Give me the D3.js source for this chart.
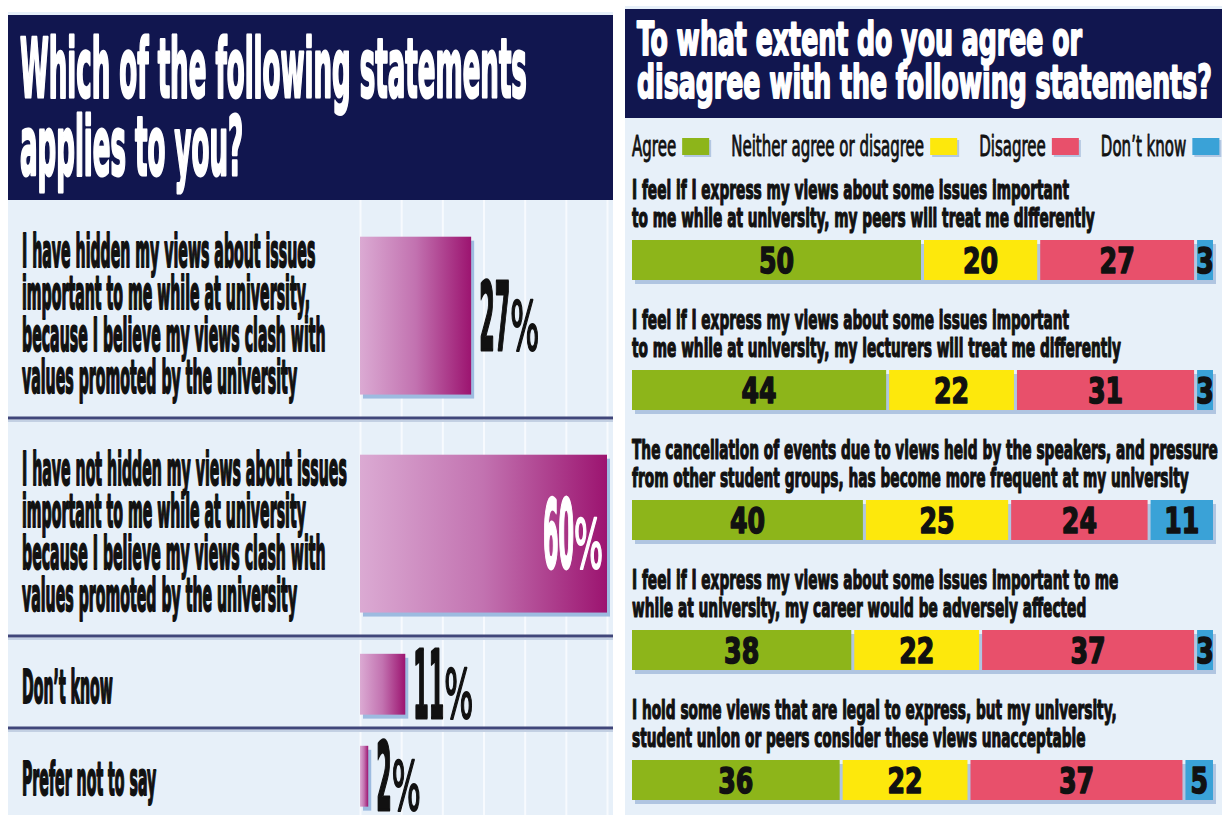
<!DOCTYPE html>
<html><head><meta charset="utf-8">
<script src="https://cdn.jsdelivr.net/npm/d3@7"></script>
<style>html,body{margin:0;padding:0;background:#fff;} svg{display:block}</style>
</head><body>
<svg id="chart" width="1227" height="815"></svg>
<script>
// ---------------- DATA ----------------
const leftTitle = ["Which of the following statements", "applies to you?"];
const leftCategories = [
  ["I have hidden my views about issues", "important to me while at university,", "because I believe my views clash with", "values promoted by the university"],
  ["I have not hidden my views about issues", "important to me while at university", "because I believe my views clash with", "values promoted by the university"],
  ["Don\u2019t know"],
  ["Prefer not to say"]
];
const leftValues = [27, 60, 11, 2];
const leftTicks = [0, 10, 20, 30, 40, 50, 60];

const rightTitle = ["To what extent do you agree or", "disagree with the following statements?"];
const seriesNames = ["Agree", "Neither agree or disagree", "Disagree", "Don\u2019t know"];
const rightStatements = [
  ["I feel if I express my views about some issues important", "to me while at university, my peers will treat me differently"],
  ["I feel if I express my views about some issues important", "to me while at university, my lecturers will treat me differently"],
  ["The cancellation of events due to views held by the speakers, and pressure", "from other student groups, has become more frequent at my university"],
  ["I feel if I express my views about some issues important to me", "while at university, my career would be adversely affected"],
  ["I hold some views that are legal to express, but my university,", "student union or peers consider these views unacceptable"]
];
const agreeValues    = [50, 44, 40, 38, 36];
const neitherValues  = [20, 22, 25, 22, 22];
const disagreeValues = [27, 31, 24, 37, 37];
const dontKnowValues = [3, 3, 11, 3, 5];

// ---------------- STYLE ----------------
const NAVY = "#11164f";
const PANEL = "#e7f0f9";
const seriesColors = ["#8db51a", "#fde80c", "#e8506b", "#3aa2d7"];
const FONT = "'Liberation Sans Narrow','Arial Narrow','DejaVu Sans Condensed','Liberation Sans',sans-serif";

const svg = d3.select("#chart");

function measure(text, size, weight) {
  const t = svg.append("text").attr("font-family", FONT).attr("font-size", size)
    .attr("font-weight", weight).text(text);
  const w = t.node().getComputedTextLength();
  t.remove();
  return w;
}
function fit(text, size, weight, target) { return target / measure(text, size, weight); }
function squeezed(parent, text, x, y, o) {
  const g = parent.append("g").attr("transform", `translate(${x},${y}) scale(${o.sx},1)`);
  const t = g.append("text").attr("x", 0).attr("y", 0).text(text)
    .attr("font-family", FONT).attr("font-size", o.size)
    .attr("font-weight", o.weight || "bold").attr("fill", o.fill || "#111")
    .attr("text-anchor", o.anchor || "start");
  if (o.stroke) t.attr("stroke", o.fill || "#111").attr("stroke-width", o.stroke).attr("stroke-linejoin", "round");
  return g;
}

// defs
const defs = svg.append("defs");
const grad = defs.append("linearGradient").attr("id", "barGrad").attr("x1", "0").attr("x2", "1").attr("y1", "0").attr("y2", "0");
grad.append("stop").attr("offset", "0").attr("stop-color", "#dbaad3");
grad.append("stop").attr("offset", "0.5").attr("stop-color", "#c272b0");
grad.append("stop").attr("offset", "1").attr("stop-color", "#9c1470");

// ---------------- PANELS ----------------
svg.append("rect").attr("x", 8).attr("y", 12).attr("width", 605).attr("height", 803).attr("fill", PANEL);
svg.append("rect").attr("x", 625).attr("y", 6).attr("width", 597).attr("height", 809).attr("fill", PANEL);

// ---------------- LEFT CHART ----------------
const left = svg.append("g");
const xL = d3.scaleLinear().domain([0, 60]).range([360, 607]);
const LEFT_TOP = 200, LINE_H = 42, ROW_PAD = 50;

// grid (axis ticks)
const grid = left.append("g").attr("transform", `translate(0,${LEFT_TOP})`)
  .call(d3.axisBottom(xL).tickValues(leftTicks).tickSize(620).tickFormat(""));
grid.select(".domain").remove();
grid.selectAll(".tick line").attr("stroke", "#f7fafe").attr("stroke-width", 2);

// header
left.append("rect").attr("x", 8).attr("y", 15).attr("width", 605).attr("height", 185).attr("fill", NAVY);
const tSx = fit(leftTitle[0], 82, "bold", 507);
leftTitle.forEach((l, i) => squeezed(left, l, 20, 97 + i * 78, { size: 82, sx: tSx, fill: "#fff", stroke: 3 }));

// rows
let acc = LEFT_TOP;
const leftRows = leftCategories.map((lines, i) => {
  const h = lines.length * LINE_H + ROW_PAD;
  const r = { top: acc, h, lines, value: leftValues[i] };
  acc += h;
  return r;
});
const LAB_SIZE = 46;
const labSx = fit(leftCategories[1][0], LAB_SIZE, "bold", 325);
const numSx = fit("27", 94, "bold", 31);
const pctSx = fit("%", 68, "normal", 29);

leftRows.forEach((r, i) => {
  // separator
  if (i < leftRows.length - 1) {
    const yy = r.top + r.h;
    left.append("line").attr("x1", 8).attr("x2", 613).attr("y1", yy + 3).attr("y2", yy + 3)
      .attr("stroke", "#c3d0e3").attr("stroke-width", 2);
    left.append("line").attr("x1", 8).attr("x2", 613).attr("y1", yy).attr("y2", yy)
      .attr("stroke", "#40467a").attr("stroke-width", 3);
  }
  // label
  const center = r.top + r.h / 2 + 4;
  const first = center - (r.lines.length - 1) * LINE_H / 2 + 17;
  r.lines.forEach((l, j) => squeezed(left, l, 22, first + j * LINE_H, { size: LAB_SIZE, sx: labSx, stroke: 2 }));
  // bar
  const y0 = r.top + 0.15 * r.h + 4;
  const y1 = r.top + r.h - 0.08 * r.h - 6;
  const bw = xL(r.value) - xL(0);
  left.append("rect").attr("x", xL(0) + 3).attr("y", y0 + 4).attr("width", bw).attr("height", y1 - y0)
    .attr("fill", "#9dbbe0");
  left.append("rect").attr("x", xL(0)).attr("y", y0).attr("width", bw).attr("height", y1 - y0)
    .attr("fill", "url(#barGrad)");
  // value label
  const bc = (y0 + y1) / 2;
  const base = Math.min(bc + 34, 811);
  const nW = measure(String(r.value), 94, "bold") * numSx;
  const pW = measure("%", 68, "normal") * pctSx;
  let startX = xL(r.value) + 8, col = "#111";
  if (startX + nW + pW > 613) { startX = xL(r.value) - 4 - nW - pW; col = "#fff"; }
  squeezed(left, String(r.value), startX, base, { size: 94, sx: numSx, fill: col, stroke: 3 });
  squeezed(left, "%", startX + nW, base, { size: 68, sx: pctSx, weight: "normal", fill: col, stroke: 2 });
});

// ---------------- RIGHT CHART ----------------
const right = svg.append("g");
right.append("rect").attr("x", 625).attr("y", 9).attr("width", 597).attr("height", 109).attr("fill", NAVY);
const rtSx = fit(rightTitle[1], 47, "bold", 575);
rightTitle.forEach((l, i) => squeezed(right, l, 637, 55 + i * 43, { size: 47, sx: rtSx, fill: "#fff", stroke: 2 }));

// legend
const legSx = fit(seriesNames[1], 28, "normal", 193);
let lx = 632;
seriesNames.forEach((n, i) => {
  squeezed(right, n, lx, 156, { size: 28, sx: legSx, weight: "normal", stroke: 0.9 });
  const w = measure(n, 28, "normal") * legSx;
  const sx = lx + w + 6;
  right.append("rect").attr("x", sx + 2).attr("y", 140).attr("width", 27).attr("height", 17).attr("fill", "#b3c7e2");
  right.append("rect").attr("x", sx).attr("y", 138).attr("width", 27).attr("height", 17).attr("fill", seriesColors[i]);
  lx = sx + 27 + 22;
});

const xR = d3.scaleLinear().domain([0, 100]).range([632, 1213]);
const yR = d3.scaleBand().domain(d3.range(rightStatements.length)).range([170, 820]);
const BAR_OFF = 70, BAR_H = 40;
const stSx = fit(rightStatements[2][0], 26, "bold", 586);
const keys = ["agree", "neither", "disagree", "dk"];
const rowsR = rightStatements.map((s, i) => ({
  agree: agreeValues[i], neither: neitherValues[i], disagree: disagreeValues[i], dk: dontKnowValues[i]
}));
const stacked = d3.stack().keys(keys)(rowsR);
const vSx = 0.8;

rightStatements.forEach((lines, i) => {
  const top = yR(i) + BAR_OFF;
  lines.forEach((l, j) => squeezed(right, l, 632, top - 41 + j * 28, { size: 26, sx: stSx, stroke: 1.2 }));
  right.append("rect").attr("x", xR(0) + 3).attr("y", top + 4).attr("width", xR(100) - xR(0)).attr("height", BAR_H)
    .attr("fill", "#b0c5e1");
});
stacked.forEach((layer, k) => {
  layer.forEach((d, i) => {
    const top = yR(i) + BAR_OFF;
    const x0 = xR(d[0]) + (k > 0 ? 1.5 : 0);
    const x1 = xR(d[1]) - (k < keys.length - 1 ? 1.5 : 0);
    right.append("rect").attr("x", x0).attr("y", top).attr("width", x1 - x0).attr("height", BAR_H)
      .attr("fill", seriesColors[k]);
    squeezed(right, String(d[1] - d[0]), (x0 + x1) / 2, top + BAR_H / 2 + 12.5,
      { size: 35, sx: vSx, anchor: "middle", stroke: 1.5 });
  });
});
</script>
</body></html>
